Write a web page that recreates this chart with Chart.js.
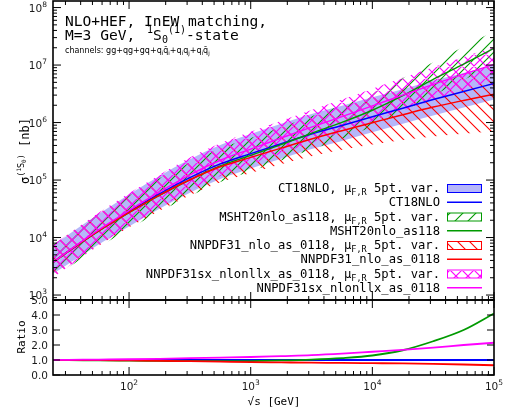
<!DOCTYPE html>
<html><head><meta charset="utf-8">
<script src="https://cdn.jsdelivr.net/npm/chart.js@4"></script>
<style>
body{margin:0;background:#fff}
#wrap{position:relative;width:512px;height:414px;background:#fff}
canvas{position:absolute;left:0;top:0}
</style>
</head><body>
<div id="wrap"><canvas id="c1" width="512" height="414"></canvas><canvas id="c2" width="512" height="414"></canvas></div>
<script>
// ---------------- data ----------------
const sqrtS = [23.7, 31.6, 56.2, 100, 177.8, 316.2, 562.3, 1000, 1778, 3162, 5623, 10000, 17783, 31623, 56234, 100000];
const ct18      = [3700, 5750, 13200, 28200, 57500, 110000, 191000, 288000, 427000, 631000, 891000, 1259000, 1778000, 2512000, 3467000, 4786000];
const ct18Hi    = [7240, 11220, 25700, 56200, 117500, 229000, 407000, 631000, 955000, 1410000, 1950000, 2750000, 3800000, 5370000, 7240000, 10000000];
const ct18Lo    = [2340, 3470, 7590, 15500, 31600, 60300, 104700, 158500, 234000, 347000, 479000, 676000, 955000, 1320000, 1820000, 2510000];
const msht      = [3700, 5690, 12940, 27070, 54050, 100900, 175700, 268000, 414000, 650000, 1007000, 1637000, 2930000, 5650000, 10400000, 19600000];
const mshtHi    = [7410, 11350, 25700, 53700, 107200, 199500, 354800, 537000, 832000, 1290000, 2000000, 3240000, 5890000, 11200000, 20900000, 38900000];
const mshtLo    = [1950, 2990, 6760, 14100, 28200, 52500, 92300, 141000, 219000, 339000, 525000, 851000, 1550000, 2950000, 5500000, 10200000];
const nnpdf     = [3700, 5750, 13070, 27350, 54600, 101200, 170000, 248000, 359000, 517000, 722000, 995000, 1369000, 1859000, 2427000, 3110000];
const nnpdfHi   = [7410, 11480, 26300, 55000, 109600, 204000, 354800, 537000, 832000, 1230000, 1820000, 2630000, 3800000, 5370000, 7410000, 9770000];
const nnpdfLo   = [2080, 3240, 7180, 15030, 29300, 54300, 91200, 133000, 188400, 259400, 337300, 415000, 496600, 574100, 638300, 696600];
const nnpdfsx   = [3700, 5810, 13600, 29600, 62100, 123200, 221000, 346000, 538000, 833000, 1266000, 1950000, 2990000, 4600000, 6930000, 10300000];
const nnpdfsxHi = [7410, 11480, 26900, 58900, 123000, 245500, 436500, 692000, 1070000, 1660000, 2510000, 3890000, 6030000, 9120000, 13800000, 20400000];
const nnpdfsxLo = [2000, 3090, 7240, 15850, 33100, 66100, 117500, 186000, 288000, 447000, 676000, 1050000, 1620000, 2450000, 3720000, 5500000];
const ratioCT18    = [1, 1, 1, 1, 1, 1, 1, 1, 1, 1, 1, 1, 1, 1, 1, 1];
const ratioMSHT    = [1.0, 0.99, 0.98, 0.96, 0.94, 0.92, 0.92, 0.93, 0.97, 1.03, 1.13, 1.30, 1.65, 2.25, 3.0, 4.1];
const ratioNNPDF   = [1.0, 1.0, 0.99, 0.97, 0.95, 0.92, 0.89, 0.86, 0.84, 0.82, 0.81, 0.79, 0.77, 0.74, 0.70, 0.65];
const ratioNNPDFsx = [1.0, 1.01, 1.03, 1.05, 1.08, 1.12, 1.16, 1.20, 1.26, 1.32, 1.42, 1.55, 1.68, 1.83, 2.0, 2.15];
const xMajorTicks = [100, 1000, 10000, 100000];
const yMajorTicks = [1e3, 1e4, 1e5, 1e6, 1e7, 1e8];
const ratioTicks = [0, 1, 2, 3, 4, 5];
const ratioTickLabels = ['0.0', '1.0', '2.0', '3.0', '4.0', '5.0'];
const legendNames = ['CT18NLO', 'MSHT20nlo_as118', 'NNPDF31_nlo_as_0118', 'NNPDF31sx_nlonllx_as_0118'];

// ---------------- styles ----------------
const MONO = '"DejaVu Sans Mono", monospace';
const SANS = '"DejaVu Sans", sans-serif';
const BLUE = '#0000ff', GREEN = '#009a00', RED = '#ff0000', MAG = '#ff00ff';
const BLUEFILL = 'rgba(80,80,240,0.42)';

function hatch(color, kind, s, lw) {
  const c = document.createElement('canvas'); c.width = s; c.height = s;
  const g = c.getContext('2d'); g.strokeStyle = color; g.lineWidth = lw; g.beginPath();
  if (kind === '/' || kind === 'x') { g.moveTo(-1, s + 1); g.lineTo(s + 1, -1); g.moveTo(-2, 2); g.lineTo(2, -2); g.moveTo(s - 2, s + 2); g.lineTo(s + 2, s - 2); }
  if (kind === '\\' || kind === 'x') { g.moveTo(-1, -1); g.lineTo(s + 1, s + 1); g.moveTo(s - 2, -2); g.lineTo(s + 2, 2); g.moveTo(-2, s - 2); g.lineTo(2, s + 2); }
  g.stroke();
  return g.createPattern(c, 'repeat');
}
const patGreen = hatch(GREEN, '/', 13, 1.1);
const patRed = hatch(RED, '\\', 12, 1.1);
const patMag = hatch(MAG, 'x', 12, 1.2);

const pts = arr => arr.map((v, i) => ({x: sqrtS[i], y: v}));
const lineDS = (data, color, order, w) => ({data: pts(data), borderColor: color, borderWidth: w, pointRadius: 0, fill: false, cubicInterpolationMode: 'monotone', order});
const loDS = (data, order) => ({data: pts(data), borderWidth: 0, borderColor: 'rgba(0,0,0,0)', pointRadius: 0, fill: false, cubicInterpolationMode: 'monotone', order});
const hiDS = (data, target, bg, order) => ({data: pts(data), borderWidth: 0, borderColor: 'rgba(0,0,0,0)', backgroundColor: bg, pointRadius: 0, fill: {target: target}, cubicInterpolationMode: 'monotone', order});

// ---------------- drawing helpers ----------------
function rich(ctx, pieces, x, y, align) {
  let w = 0;
  pieces.forEach(p => { ctx.font = p.size + 'px ' + (p.fam || MONO); p.w = ctx.measureText(p.t).width; w += (p.dx || 0) + p.w; });
  let cx = align === 'right' ? x - w : align === 'center' ? x - w / 2 : x;
  ctx.textAlign = 'left'; ctx.textBaseline = 'alphabetic';
  pieces.forEach(p => { cx += (p.dx || 0); ctx.font = p.size + 'px ' + (p.fam || MONO); ctx.fillText(p.t, cx, y + (p.dy || 0)); cx += p.w; });
}
function seg(ctx, x1, y1, x2, y2) { ctx.beginPath(); ctx.moveTo(x1, y1); ctx.lineTo(x2, y2); ctx.stroke(); }
function xLogTicks(chart, yEdge, dir) {
  const xs = chart.scales.x, ctx = chart.ctx;
  for (let e = 1; e <= 5; e++) for (let k = 1; k <= 9; k++) {
    const v = k * Math.pow(10, e); if (v < xs.min || v > xs.max * 1.0001) continue;
    const px = xs.getPixelForValue(v); seg(ctx, px, yEdge, px, yEdge + dir * (k === 1 ? 8 : 4));
  }
}

const framePlugin1 = {
  id: 'frame1',
  afterDraw(chart) {
    const ctx = chart.ctx, a = chart.chartArea, ys = chart.scales.y;
    ctx.save();
    ctx.strokeStyle = '#000'; ctx.lineWidth = 1;
    xLogTicks(chart, a.top, 1); xLogTicks(chart, a.bottom, -1);
    for (let e = 2; e <= 8; e++) for (let k = 1; k <= 9; k++) {
      const v = k * Math.pow(10, e); if (v < ys.min || v > ys.max) continue;
      const py = ys.getPixelForValue(v), L = k === 1 ? 8 : 4;
      seg(ctx, a.left, py, a.left + L, py); seg(ctx, a.right, py, a.right - L, py);
    }
    ctx.lineWidth = 1.6; ctx.strokeRect(a.left, a.top, a.right - a.left, a.bottom - a.top);
    ctx.fillStyle = '#1a1a1a';
    yMajorTicks.forEach(v => {
      const py = ys.getPixelForValue(v);
      rich(ctx, [{t: '10', size: 10.5, fam: SANS}, {t: String(Math.round(Math.log10(v))), size: 7.5, fam: SANS, dy: -5}], 47, py + 4, 'right');
    });
    // title block
    ctx.fillStyle = '#000';
    rich(ctx, [{t: 'NLO+HEF, InEW matching,', size: 14.6}], 65, 26, 'left');
    rich(ctx, [{t: 'M=3 GeV, ', size: 14.6}, {t: '1', size: 10, dy: -7, dx: 3}, {t: 'S', size: 14.6}, {t: '0', size: 10, dy: 3}, {t: '(1)', size: 10, dy: -7}, {t: '-state', size: 14.6}], 65, 40, 'left');
    const s8 = 8, s5 = 5.5, d = 2;
    rich(ctx, [{t: 'channels: gg+qg+gq+q', size: s8, fam: SANS}, {t: 'i', size: s5, fam: SANS, dy: d}, {t: 'q\u0304', size: s8, fam: SANS}, {t: 'i', size: s5, fam: SANS, dy: d},
      {t: '+q', size: s8, fam: SANS}, {t: 'i', size: s5, fam: SANS, dy: d}, {t: 'q', size: s8, fam: SANS}, {t: 'j', size: s5, fam: SANS, dy: d},
      {t: '+q', size: s8, fam: SANS}, {t: 'i', size: s5, fam: SANS, dy: d}, {t: 'q\u0304', size: s8, fam: SANS}, {t: 'j', size: s5, fam: SANS, dy: d}], 65, 53, 'left');
    // legend
    const fills = [BLUEFILL, patGreen, patRed, patMag], cols = [BLUE, GREEN, RED, MAG];
    for (let i = 0; i < 4; i++) {
      const yb1 = 192 + (2 * i) * 14.25, yb2 = 192 + (2 * i + 1) * 14.25;
      ctx.fillStyle = '#000';
      rich(ctx, [{t: legendNames[i] + ', \u03bc', size: 12.2}, {t: 'F,R', size: 8.5, dy: 3}, {t: ' 5pt. var.', size: 12.2}], 440, yb1, 'right');
      rich(ctx, [{t: legendNames[i], size: 12.2}], 440, yb2, 'right');
      ctx.fillStyle = '#fff'; ctx.fillRect(447, yb1 - 7.5, 35, 8);
      ctx.fillStyle = fills[i]; ctx.fillRect(447, yb1 - 7.5, 35, 8);
      ctx.strokeStyle = cols[i]; ctx.lineWidth = 1; ctx.strokeRect(447.5, yb1 - 7.5, 34, 8);
      ctx.lineWidth = 1.5; seg(ctx, 447, yb2 - 4, 482, yb2 - 4);
    }
    // y title
    ctx.save(); ctx.translate(29, 151); ctx.rotate(-Math.PI / 2); ctx.fillStyle = '#000';
    rich(ctx, [{t: '\u03c3', size: 12}, {t: '(', size: 8.5, dy: -5}, {t: '1', size: 6, dy: -8}, {t: 'S', size: 8.5, dy: -5}, {t: '0', size: 6, dy: -3}, {t: ')', size: 8.5, dy: -5}, {t: ' [nb]', size: 12}], 0, 0, 'center');
    ctx.restore();
    ctx.restore();
  }
};

const framePlugin2 = {
  id: 'frame2',
  afterDraw(chart) {
    const ctx = chart.ctx, a = chart.chartArea, ys = chart.scales.y, xs = chart.scales.x;
    ctx.save();
    ctx.strokeStyle = '#000'; ctx.lineWidth = 1;
    xLogTicks(chart, a.top, 1); xLogTicks(chart, a.bottom, -1);
    ratioTicks.forEach(v => { const py = ys.getPixelForValue(v); seg(ctx, a.left, py, a.left + 7, py); seg(ctx, a.right, py, a.right - 7, py); });
    ctx.lineWidth = 1.6; ctx.strokeRect(a.left, a.top, a.right - a.left, a.bottom - a.top);
    ctx.fillStyle = '#1a1a1a';
    ratioTicks.forEach((v, i) => { const py = ys.getPixelForValue(v); rich(ctx, [{t: ratioTickLabels[i], size: 10.5, fam: SANS}], 48, py + 4, 'right'); });
    xMajorTicks.forEach(v => {
      const px = xs.getPixelForValue(v);
      rich(ctx, [{t: '10', size: 10.5, fam: SANS}, {t: String(Math.round(Math.log10(v))), size: 7.5, fam: SANS, dy: -5}], px, 390, 'center');
    });
    ctx.fillStyle = '#000';
    rich(ctx, [{t: '\u221as [GeV]', size: 11}], 274, 405, 'center');
    ctx.save(); ctx.translate(25, 337); ctx.rotate(-Math.PI / 2);
    rich(ctx, [{t: 'Ratio', size: 11}], 0, 0, 'center');
    ctx.restore();
    ctx.restore();
  }
};

const xScale = {type: 'logarithmic', min: 23.7, max: 100000, display: false};

new Chart(document.getElementById('c1'), {
  type: 'line',
  data: {datasets: [
    loDS(ct18Lo, 20), hiDS(ct18Hi, 0, BLUEFILL, 20),
    loDS(mshtLo, 19), hiDS(mshtHi, 2, patGreen, 19),
    loDS(nnpdfLo, 18), hiDS(nnpdfHi, 4, patRed, 18),
    loDS(nnpdfsxLo, 17), hiDS(nnpdfsxHi, 6, patMag, 17),
    lineDS(ct18, BLUE, 3, 1.5), lineDS(msht, GREEN, 2, 1.4), lineDS(nnpdf, RED, 1, 1.5), lineDS(nnpdfsx, MAG, 0, 1.4)
  ]},
  options: {
    responsive: false, animation: false, events: [], devicePixelRatio: 1,
    layout: {padding: {left: 53, right: 18, top: 1, bottom: 114}},
    scales: {x: xScale, y: {type: 'logarithmic', min: 820, max: 1.3e8, display: false}},
    plugins: {legend: {display: false}, tooltip: {enabled: false}}
  },
  plugins: [framePlugin1]
});

new Chart(document.getElementById('c2'), {
  type: 'line',
  data: {datasets: [
    lineDS(ratioCT18, BLUE, 3, 1.8), lineDS(ratioMSHT, GREEN, 2, 1.8), lineDS(ratioNNPDF, RED, 1, 1.8), lineDS(ratioNNPDFsx, MAG, 0, 1.8)
  ]},
  options: {
    responsive: false, animation: false, events: [], devicePixelRatio: 1,
    layout: {padding: {left: 53, right: 18, top: 300, bottom: 39}},
    scales: {x: Object.assign({}, xScale), y: {type: 'linear', min: 0, max: 5, display: false}},
    plugins: {legend: {display: false}, tooltip: {enabled: false}}
  },
  plugins: [framePlugin2]
});
</script>
</body></html>
